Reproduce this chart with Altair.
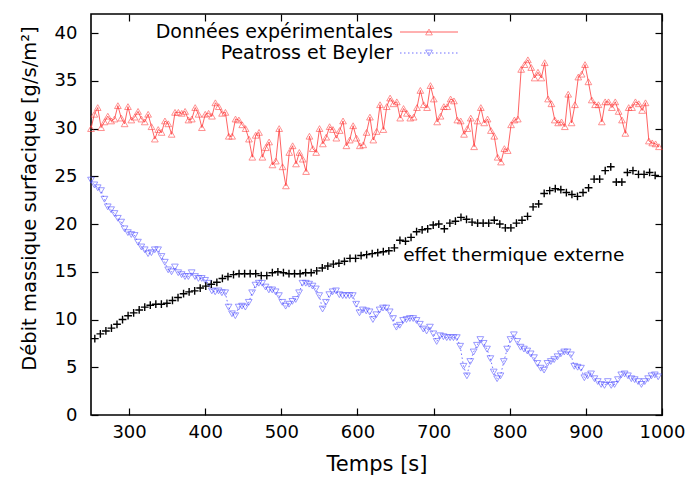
import altair as alt
import numpy as np
import pandas as pd

# ---- data ----
donnees_exp = [
    30.0, 31.5, 32.2, 30.1, 30.7, 31.3, 30.8, 31.0, 32.4, 31.1, 30.5, 32.3, 30.9, 31.2, 31.8, 31.0,
    30.7, 31.5, 30.2, 28.9, 29.9, 29.6, 30.8, 30.5, 29.4, 31.7, 31.7, 31.6, 31.8, 30.9, 31.0, 32.2,
    31.5, 30.1, 31.5, 31.6, 31.3, 32.7, 32.3, 31.6, 31.7, 29.2, 29.2, 31.0, 30.9, 30.4, 30.0, 28.9,
    27.0, 29.3, 29.6, 27.0, 28.0, 28.6, 26.2, 26.6, 30.0, 26.0, 24.0,
    27.5, 28.2, 26.3, 27.5, 26.8, 25.5, 29.2, 27.9, 27.5, 30.0, 28.4, 29.1, 30.2, 29.9, 29.0, 29.8,
    30.8, 28.2, 28.8, 30.3, 29.0, 28.2, 28.3, 29.6, 31.2, 28.8, 29.7, 32.5, 29.9, 32.3, 33.2, 32.6,
    32.8, 31.1, 32.1, 31.6, 31.1, 31.2, 32.2, 34.0, 32.5, 32.2, 34.5, 33.1, 30.7, 31.3, 32.3, 32.3,
    33.1, 32.9, 30.9, 30.8, 29.4, 30.0, 31.1, 28.1, 30.8,
    32.2, 30.6, 31.0, 29.8, 29.2, 27.0, 26.5, 27.9, 27.7, 30.4, 30.9, 31.0, 36.2, 36.7, 37.2, 36.4,
    35.3, 35.9, 35.3, 36.9, 33.1, 32.6, 30.9, 30.6, 30.7, 30.2, 33.6, 30.6, 32.5, 35.4, 35.7, 36.7,
    34.9, 33.0, 32.5, 32.5, 30.7, 32.8, 32.8, 32.2, 32.8, 31.8, 30.9, 29.5, 32.2, 32.2, 32.8, 32.6,
    31.9, 32.7, 28.7, 28.5, 28.4, 28.1,
]
peatross = [
    24.6, 24.1, 23.8, 23.5, 22.6, 21.8, 21.5, 21.1, 20.6, 20.2, 19.5, 19.1, 18.9, 18.8, 18.1, 17.6,
    17.3, 16.9, 17.0, 17.3, 17.3, 16.6, 16.0, 15.2, 15.0, 15.5, 14.9, 14.7, 14.5, 14.5, 14.9, 14.5,
    14.3, 14.3, 14.1, 13.8, 13.0, 12.9, 13.0, 12.8, 12.8, 11.3, 10.6, 10.4, 11.3, 11.4, 11.3, 11.8,
    12.8, 13.6, 13.8, 13.8, 13.4, 13.1, 13.1, 12.9, 12.5, 11.8, 11.4,
    11.6, 11.9, 12.1, 12.8, 13.8, 13.8, 13.7, 13.5, 13.2, 12.5, 11.1, 11.8, 12.6, 12.9, 13.0, 12.6,
    12.5, 12.5, 12.5, 12.5, 11.6, 10.7, 11.0, 10.9, 10.8, 10.0, 10.5, 11.0, 11.2, 11.2, 10.8, 10.1,
    9.2, 9.4, 9.9, 10.0, 10.1, 10.1, 9.9, 9.5, 9.0, 8.8, 9.2, 8.5, 7.7, 8.3, 8.2, 8.1, 8.1, 8.1,
    8.1, 7.2, 5.1, 4.1, 5.6, 6.6,
    7.3, 7.9, 7.5, 6.9, 5.9, 4.5, 3.8, 4.1, 5.6, 6.9, 7.9, 8.4, 7.7, 7.1, 6.9, 6.7, 6.4, 6.0, 5.4,
    4.9, 4.7, 5.4, 5.6, 5.8, 6.1, 6.4, 6.6, 6.6, 6.3, 5.1, 5.0, 4.9, 3.9, 4.1, 4.3, 3.8, 3.5, 3.2,
    3.1, 3.5, 3.1, 3.2, 3.7, 4.2, 4.3, 4.1, 3.8, 3.7, 3.5, 3.2, 3.5, 3.8, 4.1, 4.2, 4.0,
]
effet_ext = [
    8.0, 8.5, 8.8, 9.1, 9.5, 10.0, 10.4, 10.7, 11.0, 11.3, 11.5, 11.6, 11.6, 11.7, 12.0, 12.3,
    12.7, 12.9, 13.0, 13.3, 13.5, 13.7, 13.9, 14.3, 14.5, 14.7, 14.8, 14.8, 14.8, 14.8, 14.6, 14.6,
    14.9, 15.0, 14.9,
    14.8, 14.8, 14.8, 14.9, 14.9, 15.1, 15.4, 15.6, 15.8, 15.9, 16.1, 16.4, 16.4, 16.7, 16.8, 16.9,
    17.0, 17.1, 17.2, 17.5,
    18.3, 18.2, 18.6, 19.2, 19.4, 19.5, 19.9, 20.0, 19.5, 20.1, 20.3, 20.7, 20.5, 20.2, 20.1, 20.1,
    20.1, 20.4, 20.0, 19.6, 19.6, 20.1, 20.4, 20.8, 21.8, 22.1, 23.2, 23.5, 23.7, 23.6, 23.3, 23.1,
    22.9, 23.3, 23.8, 24.7, 24.7, 25.6, 26.0, 24.4, 24.4, 25.4, 25.6, 25.2, 25.2, 25.4, 25.1,
]
# sampling times (regular acquisition grid)
t_exp = np.linspace(250, 996, len(donnees_exp))
t_pb = np.linspace(250, 995, len(peatross))
t_ext = np.linspace(255, 991, len(effet_ext))

x_ticks = [300, 400, 500, 600, 700, 800, 900, 1000]
y_ticks = [0, 5, 10, 15, 20, 25, 30, 35, 40]
series_names = ["Données expérimentales", "Peatross et Beyler"]
annot = {"x": [660.0], "y": [16.8], "label": ["effet thermique externe"]}

RED = "#ff3b3b"
BLUE = "#4a4aff"
FONT = "DejaVu Sans"

df_exp = pd.DataFrame({"t": t_exp, "v": donnees_exp})
df_pb = pd.DataFrame({"t": t_pb, "v": peatross})
df_ext = pd.DataFrame({"t": t_ext, "v": effet_ext})
df_annot = pd.DataFrame(annot)

xs = alt.Scale(domain=[250, 1000], nice=False, zero=False)
ys = alt.Scale(domain=[0, 42], nice=False)

common_ax = dict(offset=-7, tickSize=7, domain=False, grid=False, tickColor="black",
                 tickWidth=1.2, labelColor="black", titleColor="black", labelFlush=False,
                 labelOverlap=False)

x_bottom = alt.Axis(orient="bottom", values=x_ticks, format="d", labelPadding=8,
                    labelFontSize=18, title="Temps [s]", titleFontSize=21,
                    titleFontWeight="normal", titlePadding=12, **common_ax)
y_left = alt.Axis(orient="left", values=y_ticks, format="d", labelPadding=14,
                  labelFontSize=18, title="Débit massique surfacique  [g/s/m²]",
                  titleFontSize=19.5, titleFontWeight="normal", titlePadding=15,
                  titleY=184, **common_ax)
x_top = alt.Axis(orient="top", values=x_ticks, labels=False, title=None, **common_ax)
y_right = alt.Axis(orient="right", values=y_ticks, labels=False, title=None, **common_ax)

exp_line = alt.Chart(df_exp).mark_line(color=RED, strokeWidth=0.8).encode(
    x=alt.X("t:Q", scale=xs, axis=x_bottom),
    y=alt.Y("v:Q", scale=ys, axis=y_left),
)
exp_pts = alt.Chart(df_exp).mark_point(shape="triangle-up", filled=False, color=RED,
                                      size=45, strokeWidth=0.8).encode(
    x=alt.X("t:Q", scale=xs, axis=None),
    y=alt.Y("v:Q", scale=ys, axis=None),
)
pb_line = alt.Chart(df_pb).mark_line(color=BLUE, strokeWidth=0.8, strokeDash=[1.5, 2.5]).encode(
    x=alt.X("t:Q", scale=xs, axis=x_top),
    y=alt.Y("v:Q", scale=ys, axis=y_right),
)
pb_pts = alt.Chart(df_pb).mark_point(shape="triangle-down", filled=False, color=BLUE,
                                     size=45, strokeWidth=0.8).encode(
    x=alt.X("t:Q", scale=xs, axis=None),
    y=alt.Y("v:Q", scale=ys, axis=None),
)
ext_pts = alt.Chart(df_ext).mark_point(shape="M-1,0L1,0M0,-1L0,1", filled=False, color="black",
                                       size=60, strokeWidth=1.4, opacity=1).encode(
    x=alt.X("t:Q", scale=xs, axis=None),
    y=alt.Y("v:Q", scale=ys, axis=None),
)
annot_txt = alt.Chart(df_annot).mark_text(align="left", baseline="middle", fontSize=18.5,
                                          font=FONT, color="black").encode(
    x=alt.X("x:Q", scale=xs, axis=None),
    y=alt.Y("y:Q", scale=ys, axis=None),
    text="label:N",
)

# legend (gnuplot style: text right-aligned, sample line with marker to the right)
legend_layers = []
styles = [(RED, "triangle-up", [1, 0]), (BLUE, "triangle-down", [1.5, 2.5])]
for i, (name, (col, shp, dash)) in enumerate(zip(series_names, styles)):
    ldf = pd.DataFrame({"label": [name]})
    yy = 18 + 21 * i
    legend_layers.append(alt.Chart(ldf).mark_text(align="right", baseline="middle", fontSize=19,
                                                  font=FONT, color="black").encode(
        text="label:N", x=alt.value(302), y=alt.value(yy)))
    legend_layers.append(alt.Chart(ldf).mark_rule(color=col, strokeWidth=0.8, strokeDash=dash).encode(
        x=alt.value(309), x2=alt.value(367), y=alt.value(yy)))
    legend_layers.append(alt.Chart(ldf).mark_point(shape=shp, filled=False, color=col, size=45,
                                                   strokeWidth=0.8).encode(
        x=alt.value(338), y=alt.value(yy)))

chart = alt.layer(exp_line, exp_pts, pb_line, pb_pts, ext_pts, annot_txt, *legend_layers).resolve_axis(
    x="independent", y="independent"
).properties(
    width=571, height=401,
    autosize=alt.AutoSizeParams(type="none"),
    padding={"left": 91, "top": 14, "right": 27, "bottom": 64},
    background="white",
).configure(font=FONT).configure_view(stroke="black", strokeWidth=1.6)

chart.save("out.html", embed_options={"renderer": "svg", "actions": False})
